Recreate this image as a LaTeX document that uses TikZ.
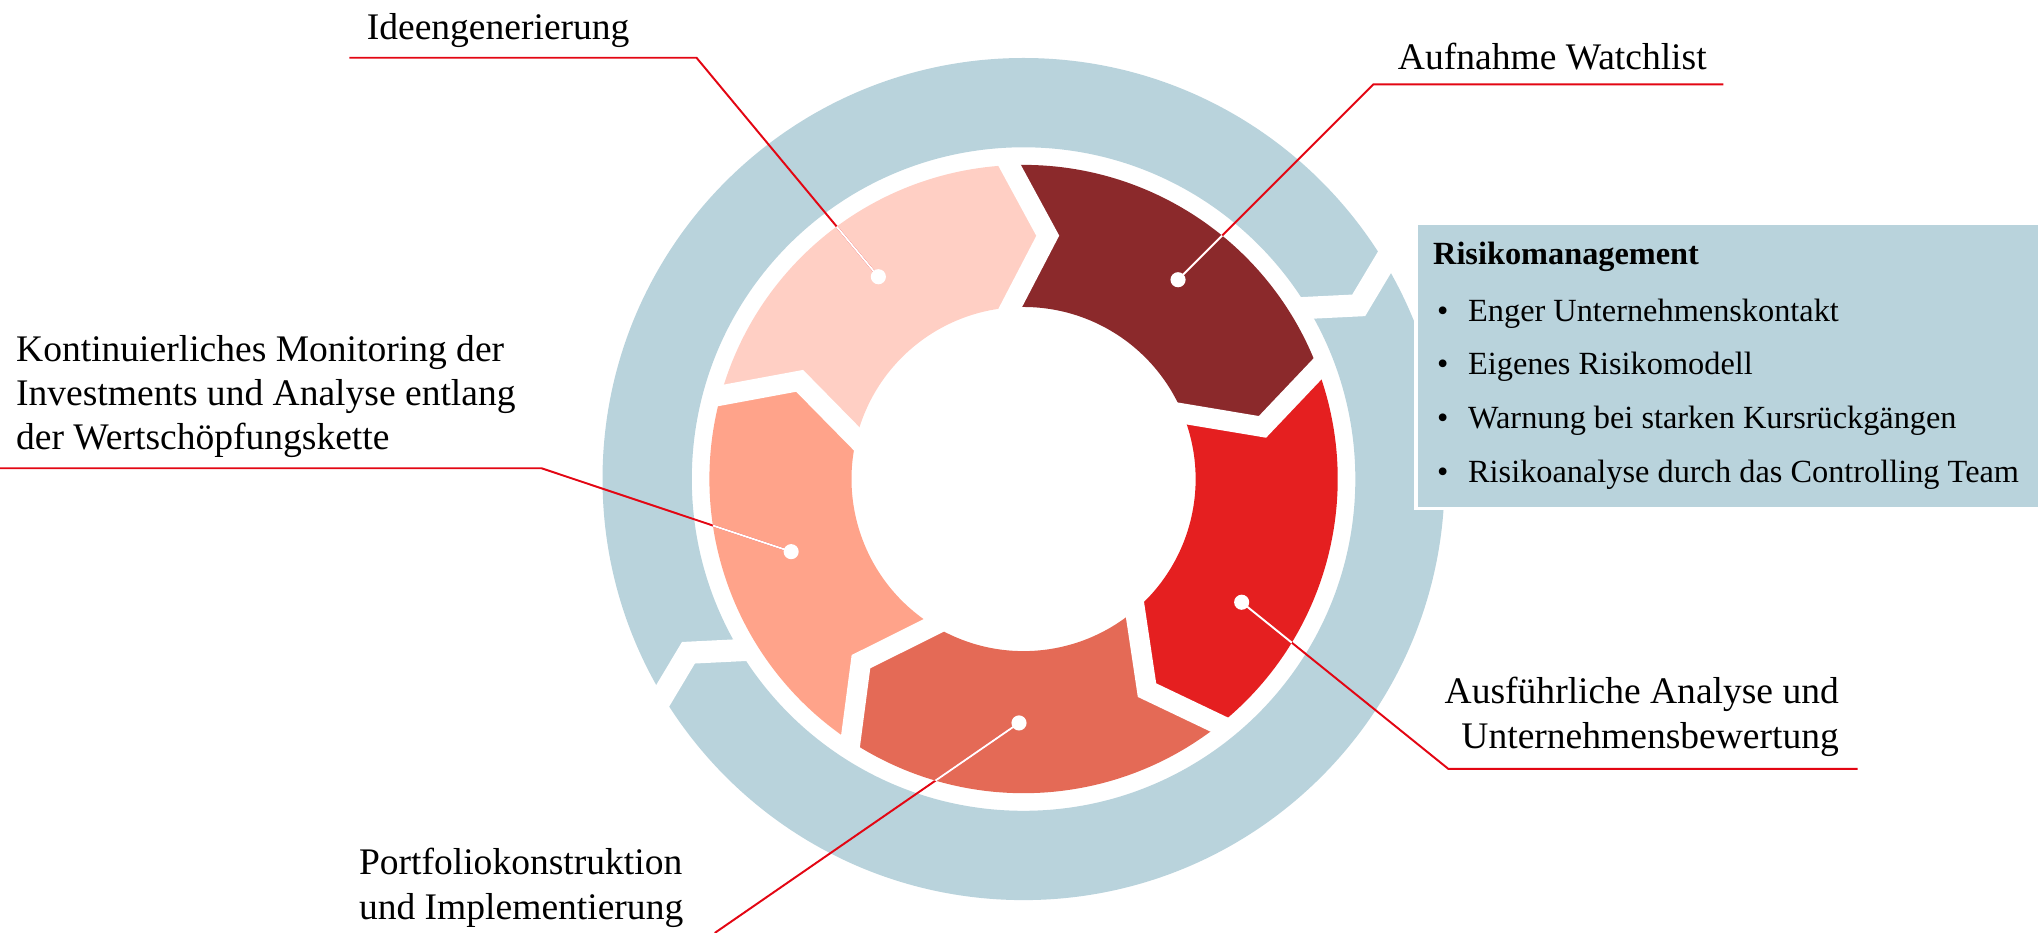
\documentclass[tikz,border=0pt]{standalone}
\usepackage{fontspec}
\setmainfont{Liberation Serif}
\definecolor{ringblue}{RGB}{185,211,220}
\definecolor{cPink}{RGB}{255,207,196}
\definecolor{cDark}{RGB}{139,41,43}
\definecolor{cRed}{RGB}{229,31,32}
\definecolor{cCoral}{RGB}{228,106,86}
\definecolor{cSalmon}{RGB}{255,163,138}
\definecolor{lnred}{RGB}{227,6,19}
\pgfdeclarelayer{ringlayer}
\pgfdeclarelayer{linelayer}
\pgfsetlayers{ringlayer,linelayer,main}
\begin{document}
\begin{tikzpicture}[x=0.5pt,y=0.5pt,
  lbl/.style={inner sep=0pt, font=\fontsize{14.4}{17}\selectfont},
  boxtxt/.style={inner sep=0pt, font=\fontsize{12.4}{20.65}\selectfont},
  callout/.style={draw=lnred, line width=0.75pt},
  calloutw/.style={draw=white, line width=0.75pt},
  dotw/.style={circle, fill=white, inner sep=0pt, minimum size=5.8pt},
  segcut/.style={draw=white, line width=7.75pt, line join=miter},
  ringcut/.style={draw=white, line width=8.5pt, line join=miter},
  riskbox/.style={draw=white, line width=1.3pt, fill=ringblue, minimum width=239pt, minimum height=109.5pt, inner sep=0pt, anchor=north west}
]
\useasboundingbox (0,0) rectangle (1568,715.7);
\coordinate (C) at (785.2,348.2);
% ---------------- ring ----------------
\begin{pgfonlayer}{ringlayer}
\begin{scope}[shift={(C)}]
  \fill[ringblue, even odd rule] (0,0) circle[radius=323] (0,0) circle[radius=254.5];
  \foreach \t in {31,211}{\draw[ringcut, rotate=\t] (335,6.4) -- (289,-18.2) -- (247,4.3);}
  \foreach \a/\c in {90.5/cDark,18.5/cRed,-53.5/cCoral,-125.5/cSalmon,-197.5/cPink}{
    \pgfmathsetmacro\ao{\a+2.09}
    \pgfmathsetmacro\bo{\a-72+2.09}
    \pgfmathsetmacro\ai{\a+3.82}
    \pgfmathsetmacro\bi{\a-72+3.82}
    \pgfmathsetmacro\av{\a-6.18}
    \pgfmathsetmacro\bv{\a-72-6.18}
    \fill[\c] (\ao:241) arc[start angle=\ao, end angle=\bo, radius=241] -- (\bv:187.6) -- (\bi:132) arc[start angle=\bi, end angle=\ai, radius=132] -- (\av:187.6) -- cycle;
  }
  \foreach \a in {90.5,18.5,-53.5,-125.5,-197.5}{\draw[segcut, rotate=\a] (248,12.5) -- (186.5,-20.2) -- (115,17.8);}
\end{scope}
\end{pgfonlayer}
% ---------------- dots ----------------
\node[dotw] (dIdee) at (673.8,503.4) {};
\node[dotw] (dWatch) at (903.7,501.1) {};
\node[dotw] (dMon) at (606.9,292.5) {};
\node[dotw] (dAna) at (952.5,253.7) {};
\node[dotw] (dPort) at (781.7,161.1) {};
% ---------------- callout corners ----------------
\coordinate (uIdeeA) at (268,671.4);
\coordinate (uIdeeB) at (534.3,671.4);
\coordinate (uWatchA) at (1322,650.9);
\coordinate (uWatchB) at (1053.4,650.9);
\coordinate (uMonA) at (0,356.5);
\coordinate (uMonB) at (415.3,356.5);
\coordinate (uAnaA) at (1425,125.9);
\coordinate (uAnaB) at (1111,125.9);
\coordinate (uPortB) at (548.3,0);
\begin{pgfonlayer}{linelayer}
  \draw[callout] (uIdeeA) -- (uIdeeB) -- (dIdee.center);
  \draw[callout] (uWatchA) -- (uWatchB) -- (dWatch.center);
  \draw[callout] (uMonA) -- (uMonB) -- (dMon.center);
  \draw[callout] (uAnaA) -- (uAnaB) -- (dAna.center);
  \draw[callout] (uPortB) -- (dPort.center);
  \begin{scope}
    \clip (C) circle[radius=241];
    \draw[calloutw] (uIdeeB) -- (dIdee.center);
    \draw[calloutw] (uWatchB) -- (dWatch.center);
    \draw[calloutw] (uMonB) -- (dMon.center);
    \draw[calloutw] (uAnaB) -- (dAna.center);
    \draw[calloutw] (uPortB) -- (dPort.center);
  \end{scope}
\end{pgfonlayer}
% ---------------- labels ----------------
\node[lbl, anchor=base west] (tIdee) at (281,685.7) {Ideengenerierung};
\node[lbl, anchor=base west] (tWatch) at (1072,662.7) {Aufnahme Watchlist};
\node[lbl, anchor=base west] (tMon) at (12,438.7) {\begin{tabular}[t]{@{}l@{}}Kontinuierliches Monitoring der\\Investments und Analyse entlang\\der Wertschöpfungskette\end{tabular}};
\node[lbl, anchor=base east] (tAna) at (1411,175.7) {\begin{tabular}[t]{@{}r@{}}Ausführliche Analyse und\hspace{6.5pt}\\Unternehmensbewertung\end{tabular}};
\node[lbl, anchor=base west] (tPort) at (275,44.7) {\begin{tabular}[t]{@{}l@{}}Portfoliokonstruktion\\und Implementierung\end{tabular}};
% ---------------- risk box ----------------
\node[riskbox] (rbox) at (1085,545.7) {};
\node[boxtxt, anchor=base west] (rtext) at (1099,512.7) {\begin{tabular}[t]{@{}l@{\hspace{7.6pt}}l@{}}
\multicolumn{2}{@{}l@{}}{\textbf{Risikomanagement}}\\[1pt]
\hspace{1.5pt}\textbullet & Enger Unternehmenskontakt\\
\hspace{1.5pt}\textbullet & Eigenes Risikomodell\\
\hspace{1.5pt}\textbullet & Warnung bei starken Kursrückgängen\\
\hspace{1.5pt}\textbullet & Risikoanalyse durch das Controlling Team
\end{tabular}};
\end{tikzpicture}
\end{document}
